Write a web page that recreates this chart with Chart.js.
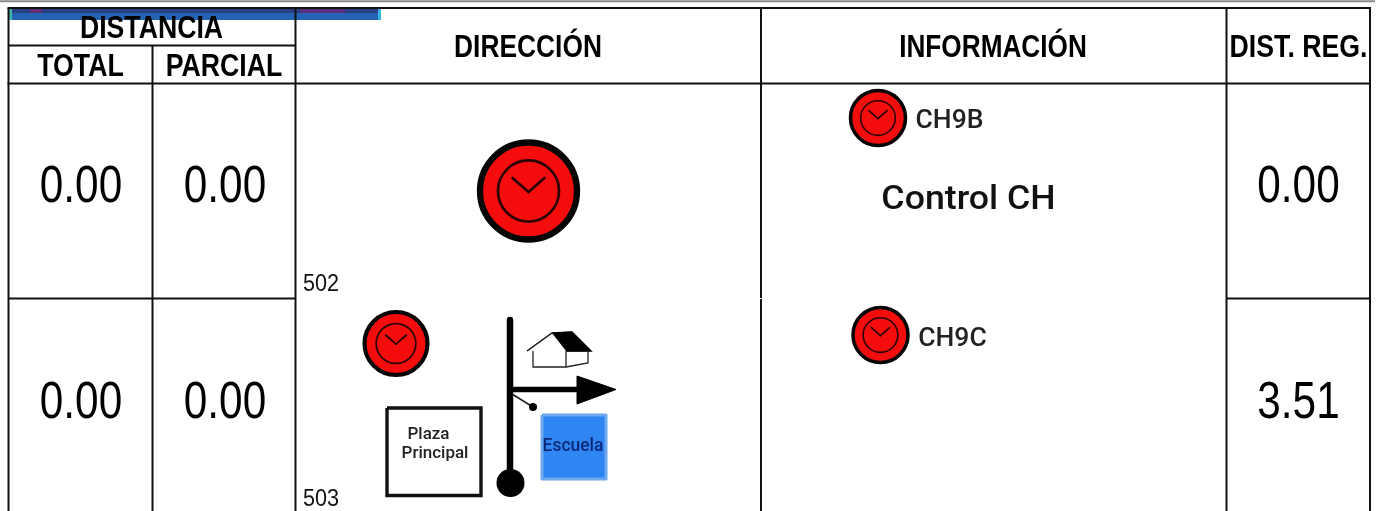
<!DOCTYPE html>
<html><head><meta charset="utf-8">
<style>html,body{margin:0;padding:0;background:#fff}#w{position:relative;width:1384px;height:511px}canvas{display:block}</style>
<script src="https://cdn.jsdelivr.net/npm/chart.js@4"></script></head>
<body><div id="w"><canvas id="c" width="1384" height="511"></canvas></div>
<script>
const totals=["0.00","0.00"];
const partials=["0.00","0.00"];
const regs=["0.00","3.51"];
const refs=["502","503"];
const codes=["CH9B","CH9C"];
const headers=["DIRECCIÓN","INFORMACIÓN","DIST. REG."];
const subHeaders=["TOTAL","PARCIAL"];
const topHeader="DISTANCIA";
const note="Control CH";

const colEdges=[8.5,152.5,295.5,761,1226.5,1370];
const rowEdges=[8,45.5,83.5,298.5,511];

const seg=(x1,y1,x2,y2,color,w,cap)=>({type:'line',data:[{x:x1,y:y1},{x:x2,y:y2}],borderColor:color,borderWidth:w,pointRadius:0,showLine:true,fill:false,borderCapStyle:cap||'butt',clip:false});
const dot=(x,y,r,fill,stroke,w)=>({type:'scatter',data:[{x,y}],pointRadius:r,pointHoverRadius:r,pointBackgroundColor:fill,pointBorderColor:stroke,pointBorderWidth:w,clip:false});
const poly=(pts,fill,stroke,w,join)=>({type:'line',data:pts.map(p=>({x:p[0],y:p[1]})),borderColor:stroke,backgroundColor:fill,borderWidth:w,pointRadius:0,fill:fill?'shape':false,tension:0,borderJoinStyle:join||'miter',clip:false});
const clock=(x,y,r)=>{const w=Math.max(1.6,r*0.055),c='#2a0303';return [
  dot(x,y,r,'#f50d0d','#050505',r*0.13),
  dot(x,y,r*0.63,'rgba(0,0,0,0)',c,w),
  seg(x-r*0.33,y-r*0.27,x,y+r*0.02,c,w,'round'),
  seg(x,y+r*0.02,x+r*0.33,y-r*0.27,c,w,'round')
];};
const C=colEdges,R=rowEdges,K='#111',LW=2;
const datasets=[
  seg(0,1.2,1375,1.2,'#8a8a8a',2),
  // banner strip behind the header
  seg(9,14.5,381,14.5,'#2463b4',11),
  seg(9,10.5,381,10.5,'#2b3f86',5),
  seg(30,11,42,11,'#7a2a6e',3),
  seg(300,11,345,11,'#5a2f80',4),
  seg(9,14,12,14,'#3fb8a8',12),
  seg(378,14,381,14,'#35b4e0',12),
  // grid
  seg(C[0]-1,R[0],C[5]+1,R[0],K,LW),
  seg(C[0],R[1],C[2],R[1],K,LW),
  seg(C[0]-1,R[2],C[5]+1,R[2],K,LW),
  seg(C[0],R[3],C[2],R[3],K,LW),
  seg(C[4],R[3],C[5],R[3],K,LW),
  seg(C[0],R[0],C[0],R[4],K,LW),
  seg(C[1],R[1],C[1],R[4],K,LW),
  seg(C[2],R[0],C[2],R[4],K,LW),
  seg(C[3],R[0],C[3],R[3]-.5,K,LW),
  seg(C[3],R[3]+.5,C[3],R[4],K,LW),
  seg(C[4],R[0],C[4],R[4],K,LW),
  seg(C[5],R[0],C[5],R[4],K,LW),
  // icons
  ...clock(528.5,191,48.5),
  ...clock(878,118,27.5),
  ...clock(880.5,335,27.5),
  ...clock(396,343.5,31.5),
  // street sketch
  seg(510,320,510,480,'#000',6.5,'round'),
  seg(510,389.5,582,389.5,'#000',5.5),
  seg(512,394,533,407,'#222',1.6),
  dot(533,407,4,'#000','#000',0),
  dot(510.5,483,14,'#000','#000',0),
  poly([[577,376],[616,389.5],[577,404],[577,376]],'#000','#000',1),
  // house
  poly([[527,351],[552,333],[572,332],[591,351],[566,351]],'#fff','#111',1.5),
  poly([[552,333],[572,332],[591,351],[566,351]],'#000','#000',1),
  poly([[533,351],[533,367],[566,367],[588,363],[588,351]],null,'#222',1.3),
  seg(566,351,566,367,'#222',1.3),
  // plaza box
  poly([[387,408],[481,408],[481,495.5],[387,495.5],[387,408]],null,'#111',3.4),
  // school box
  poly([[542,415],[606,415],[606,479],[542,479],[542,415]],'#2f86f2','#6ea8ee',3,'round')
];
// Chart.js paints the first dataset last, so reverse to keep later entries on top
datasets.reverse();

const drawText=(ctx,s,x,y,font,color,sx)=>{
  ctx.save();ctx.font=font;ctx.fillStyle=color;ctx.textBaseline='middle';ctx.textAlign='center';
  ctx.translate(x,y);ctx.scale(sx||1,1);
  ctx.fillText(s,0,0);ctx.restore();
};
const textPlugin={id:'tableText',afterDatasetsDraw(chart){
  const ctx=chart.ctx,X=v=>chart.scales.x.getPixelForValue(v),Y=v=>chart.scales.y.getPixelForValue(v);
  const H='bold 31px "Liberation Sans"';
  drawText(ctx,topHeader,X(151.5),Y(29),H,'#000',0.86);
  drawText(ctx,subHeaders[0],X(80.5),Y(67),H,'#000',0.86);
  drawText(ctx,subHeaders[1],X(224),Y(67),H,'#000',0.86);
  drawText(ctx,headers[0],X(528),Y(48.5),H,'#000',0.85);
  drawText(ctx,headers[1],X(993),Y(48.5),H,'#000',0.845);
  drawText(ctx,headers[2],X(1298.5),Y(48.5),H,'#000',0.86);
  const V='51px "Liberation Sans"',ys=[188,404];
  ys.forEach((y,i)=>{
    drawText(ctx,totals[i],X(81),Y(y),V,'#000',0.83);
    drawText(ctx,partials[i],X(225),Y(y),V,'#000',0.83);
    drawText(ctx,regs[i],X(1298.5),Y(y),V,'#000',0.83);
  });
  drawText(ctx,refs[0],X(321),Y(284),'24px "Liberation Sans"','#111',0.9);
  drawText(ctx,refs[1],X(321),Y(499),'24px "Liberation Sans"','#111',0.9);
  drawText(ctx,codes[0],X(949.5),Y(121.5),'500 25px Roboto','#222',1.06);
  drawText(ctx,codes[1],X(952.5),Y(339.5),'500 25px Roboto','#222',1.06);
  drawText(ctx,note,X(968.5),Y(200),'500 34px Roboto','#111',1.05);
  drawText(ctx,'Plaza',X(428.5),Y(435),'500 17px Roboto','#222',1);
  drawText(ctx,'Principal',X(435),Y(454),'500 17px Roboto','#222',1);
  drawText(ctx,'Escuela',X(573),Y(446),'500 18px Roboto','#0a2a78',0.97);
}};

new Chart(document.getElementById('c'),{
  type:'scatter',
  data:{datasets},
  options:{
    responsive:false,animation:false,
    layout:{padding:0,autoPadding:false},
    plugins:{legend:{display:false},tooltip:{enabled:false}},
    events:[],
    scales:{
      x:{type:'linear',min:0,max:1384,display:false},
      y:{type:'linear',min:0,max:511,reverse:true,display:false}
    }
  },
  plugins:[textPlugin]
});
</script></body></html>
